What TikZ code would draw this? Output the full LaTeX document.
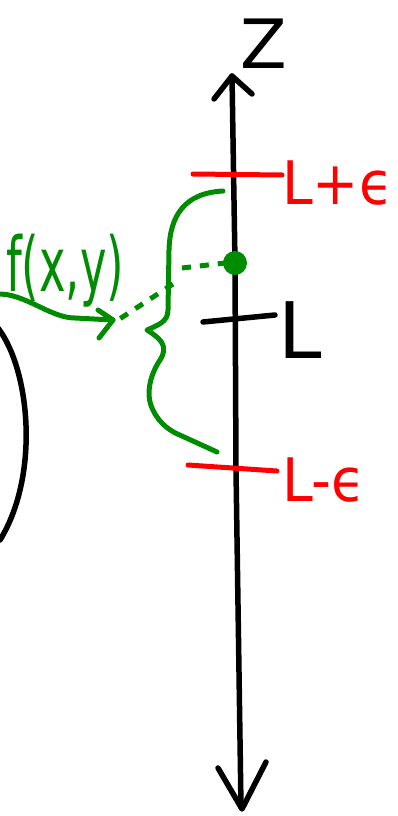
\documentclass[tikz,border=0pt]{standalone}
\usepackage{fontspec}
\setmainfont{DejaVu Sans}
\definecolor{pgreen}{RGB}{0,140,0}
\definecolor{pred}{RGB}{255,0,0}
\begin{document}
\begin{tikzpicture}[x=1pt,y=-1pt,
  ink/.style={line width=5.5pt,line cap=round,line join=round},
  gink/.style={ink,pgreen,line width=5pt},
  rink/.style={ink,pred,line width=5pt},
  dsh/.style={gink,dash pattern=on 9pt off 9pt,line cap=butt},
  lbl/.style={inner sep=0pt,anchor=base west}]
\useasboundingbox (0,0) rectangle (397,816);
% coordinates
\coordinate (ztop) at (232,76);
\coordinate (zbot) at (241,807);
\coordinate (dot) at (235,263);
% axis
\draw[ink] (ztop) -- (235,263) -- (236,470) -- (zbot);
\draw[ink] (214,99) -- (ztop) -- (252,94);
\draw[ink] (218,768) -- (242,809) -- (266,762);
\node[lbl,font=\fontsize{68}{68}\selectfont] (zlab) at (240,68) {Z};
% ticks
\draw[rink] (193,174) -- (282,175);
\draw[ink] (203,322) -- (275,315);
\draw[rink] (188,465) -- (277,471);
\node[lbl,pred,font=\fontsize{60}{60}\selectfont,xscale=0.92] (lpe) at (282,204) {L+ϵ};
\node[lbl,font=\fontsize{78}{78}\selectfont] (ll) at (278,358) {L};
\node[lbl,pred,font=\fontsize{60}{60}\selectfont,xscale=0.92] (lme) at (282,501) {L-ϵ};
% green dot and dashes
\fill[pgreen] (dot) circle (12);
\draw[dsh] (182,268) -- (225,263);
\draw[dsh] (173,284) -- (118,320);
% brace
\draw[gink] (223,191) .. controls (185,193) and (170,215) .. (169,250) -- (168,310)
  .. controls (168,322) and (158,325) .. (147,330)
  .. controls (158,337) and (170,345) .. (160,360)
  .. controls (150,375) and (145,395) .. (153,410)
  .. controls (160,425) and (172,432) .. (182,436) -- (217,452);
% arrow to brace
\begin{scope}
\clip (0,0) rectangle (397,816);
\coordinate (astart) at (-3,294);
\coordinate (atip) at (113,320);
\draw[gink] (astart) .. controls (25,293) and (50,318) .. (75,318) -- (atip);
\draw[gink] (98,310) -- (atip) -- (99,338);
% left circle arc
\draw[ink] (-2,328) .. controls (30,370) and (40,475) .. (0,540);
\end{scope}
\node[lbl,pgreen,font=\fontsize{56}{56}\selectfont,xscale=0.8,yscale=1.35] (flab) at (6,291) {f(x,y)};
\end{tikzpicture}
\end{document}
